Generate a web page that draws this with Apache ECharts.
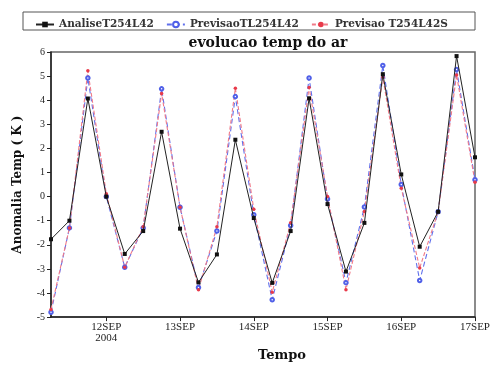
<!DOCTYPE html>
<html>
<head>
<meta charset="utf-8">
<script src="https://cdn.jsdelivr.net/npm/echarts@6/dist/echarts.min.js"></script>
<style>
  html, body { margin: 0; padding: 0; background: #fff; }
  #chart { width: 493px; height: 367px; }
</style>
</head>
<body>
<div id="chart"></div>
<script>
// 6-hourly times, 11SEP 06Z .. 17SEP 00Z
const times = [
  "11SEP06", "11SEP12", "11SEP18", "12SEP00", "12SEP06", "12SEP12", "12SEP18",
  "13SEP00", "13SEP06", "13SEP12", "13SEP18", "14SEP00", "14SEP06", "14SEP12",
  "14SEP18", "15SEP00", "15SEP06", "15SEP12", "15SEP18", "16SEP00", "16SEP06",
  "16SEP12", "16SEP18", "17SEP00"
];
const analise = [-1.77, -1.0, 4.07, 0.0, -2.38, -1.43, 2.69, -1.33, -3.56, -2.4, 2.36, -0.89,
  -3.58, -1.43, 4.08, -0.31, -3.11, -1.09, 5.08, 0.92, -2.08, -0.63, 5.83, 1.63];
const previsaoTL = [-4.8, -1.3, 4.92, 0.0, -2.93, -1.3, 4.47, -0.44, -3.77, -1.43, 4.15, -0.75,
  -4.28, -1.2, 4.92, -0.1, -3.57, -0.43, 5.44, 0.5, -3.48, -0.63, 5.27, 0.7];
const previsaoS = [-4.68, -1.3, 5.22, 0.12, -2.93, -1.25, 4.28, -0.44, -3.86, -1.25, 4.5, -0.53,
  -3.97, -1.09, 4.53, 0.0, -3.86, -0.62, 4.95, 0.35, -2.96, -0.63, 5.05, 0.6];

const serif = "'Liberation Serif', 'DejaVu Serif', serif";
const serifBold = "'DejaVu Serif', serif";

const chart = echarts.init(document.getElementById("chart"), null, { renderer: "canvas" });

chart.setOption({
  backgroundColor: "#fff",
  animation: false,
  title: {
    text: "evolucao temp do ar",
    left: 263,
    top: 31,
    textAlign: "center",
    textStyle: { fontFamily: serifBold, fontWeight: "bold", fontSize: 14, color: "#111" },
  },
  graphic: [{
    type: "rect",
    shape: { x: 23, y: 12, width: 452, height: 18 },
    style: { fill: "none", stroke: "#555", lineWidth: 1 },
  }],
  legend: {
    top: 14,
    left: 30,
    itemGap: 12,
    itemWidth: 18,
    itemHeight: 7,
    textStyle: { fontFamily: serifBold, fontWeight: "bold", fontSize: 10.5, color: "#333" },
  },
  grid: { left: 51, right: 18, top: 52, bottom: 31, show: true, borderColor: "#666", borderWidth: 1.5 },
  xAxis: {
    type: "category",
    data: times,
    boundaryGap: false,
    name: "Tempo",
    nameLocation: "middle",
    nameGap: 13,
    nameTextStyle: { fontFamily: serifBold, fontWeight: "bold", fontSize: 13, color: "#111", padding: [0, 0, 0, 38] },
    axisLine: { onZero: false, lineStyle: { color: "#222", width: 1.5 } },
    axisTick: { interval: (i) => i % 4 === 3, length: 4, lineStyle: { color: "#222" } },
    axisLabel: {
      interval: (i) => i % 4 === 3,
      fontFamily: serif,
      fontSize: 11,
      color: "#222",
      margin: 5,
      lineHeight: 11,
      formatter: (v) => (v === "12SEP00" ? "12SEP\n2004" : v.slice(0, 5)),
    },
    splitLine: { show: false },
  },
  yAxis: {
    type: "value",
    min: -5,
    max: 6,
    interval: 1,
    name: "Anomalia Temp ( K )",
    nameLocation: "middle",
    nameGap: 27,
    nameTextStyle: { fontFamily: serifBold, fontWeight: "bold", fontSize: 12, color: "#111" },
    axisLine: { show: true, lineStyle: { color: "#222", width: 1.5 } },
    axisTick: { show: true, length: 4, lineStyle: { color: "#222" } },
    axisLabel: { fontFamily: serif, fontSize: 10, color: "#222", margin: 6 },
    splitLine: { show: false },
  },
  series: [
    {
      name: "AnaliseT254L42",
      type: "line",
      data: analise,
      symbol: "rect",
      symbolSize: 4,
      color: "#111",
      lineStyle: { color: "#222", width: 1 },
      itemStyle: { color: "#111" },
      z: 3,
    },
    {
      name: "PrevisaoTL254L42",
      type: "line",
      data: previsaoTL,
      symbol: "emptyCircle",
      symbolSize: 3.5,
      color: "#5060e8",
      lineStyle: { color: "#6070ec", width: 1.1, type: [5, 3] },
      itemStyle: { color: "#5060e8", borderWidth: 1 },
      z: 2,
    },
    {
      name: "Previsao T254L42S",
      type: "line",
      data: previsaoS,
      symbol: "circle",
      symbolSize: 3.5,
      color: "#e83a4a",
      lineStyle: { color: "#f07a88", width: 1.1, type: [4, 2] },
      itemStyle: { color: "#e83a4a" },
      z: 2,
    },
  ],
});
</script>
</body>
</html>
